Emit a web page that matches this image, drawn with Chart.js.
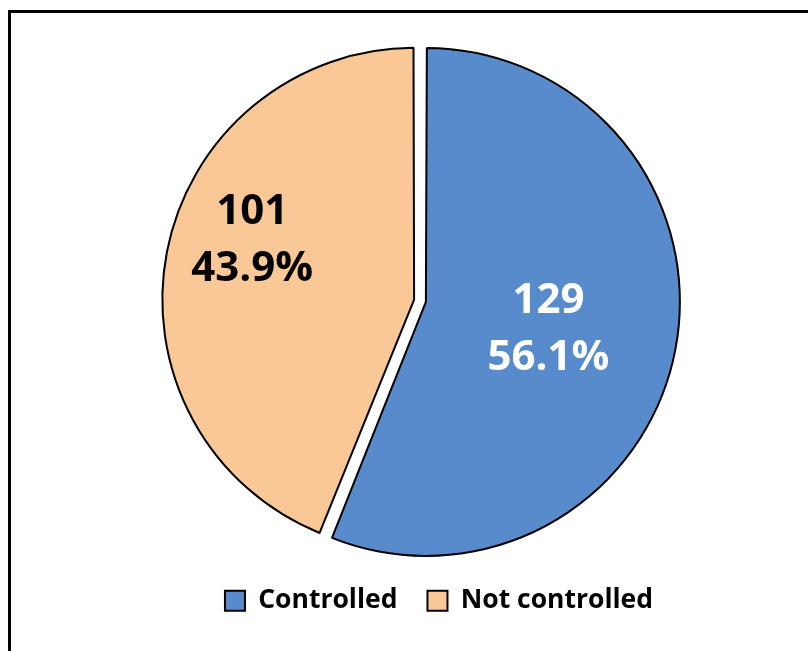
<!DOCTYPE html>
<html>
<head>
<meta charset="utf-8">
<script src="https://cdn.jsdelivr.net/npm/chart.js@4/dist/chart.umd.min.js"></script>
<style>
    body { margin: 0; background: #fff; }
    .frame {
        position: absolute; left: 8px; top: 10px;
        width: 900px; height: 700px;
        border: 3px solid #000;
    }
    .holder {
        position: absolute; left: 0; top: 0;
        width: 808px; height: 651px;
    }
</style>
</head>
<body>
<div class="frame"></div>
<div class="holder"><canvas id="chart"></canvas></div>
<script>
const categories = ["Controlled", "Not controlled"];
const counts = [129, 101];
const percents = ["56.1%", "43.9%"];

const sliceColors = ["#588bcb", "#fac896"];
const labelColors = ["#ffffff", "#000000"];

// draws "count / percent" inside every slice
const sliceLabels = {
    id: "sliceLabels",
    afterDatasetsDraw(chart, args, opts) {
        const ctx = chart.ctx;
        const arcs = chart.getDatasetMeta(0).data;
        ctx.save();
        ctx.font = "bold 42px 'Open Sans'";
        ctx.textAlign = "center";
        ctx.textBaseline = "middle";
        arcs.forEach((arc, i) => {
            const p = opts.place[i];
            const mid = (arc.startAngle + arc.endAngle) / 2 + p.turn * Math.PI / 180;
            const r = arc.outerRadius * p.r;
            const x = arc.x + Math.cos(mid) * r;
            const y = arc.y + Math.sin(mid) * r;
            ctx.fillStyle = labelColors[i];
            ctx.fillText(String(counts[i]), x, y - 28);
            ctx.fillText(percents[i], x, y + 29);
        });
        ctx.restore();
    }
};

// legend sits a little right of the pie centre in the original
const legendShift = {
    id: "legendShift",
    afterLayout(chart, args, opts) {
        chart.legend.left += opts.dx;
        chart.legend.right += opts.dx;
    }
};

new Chart(document.getElementById("chart"), {
    type: "pie",
    data: {
        labels: categories,
        datasets: [{
            data: counts,
            backgroundColor: sliceColors,
            borderColor: "#000",
            borderWidth: 2,
            offset: 24
        }]
    },
    options: {
        responsive: true,
        maintainAspectRatio: false,
        animation: { duration: 0 },
        radius: 248,
        layout: {
            padding: { left: 32, right: 0, top: 44, bottom: 27 }
        },
        plugins: {
            legend: {
                position: "bottom",
                labels: {
                    color: "#000",
                    boxWidth: 20,
                    boxHeight: 20,
                    padding: 30,
                    font: { family: "'Open Sans'", size: 26.5, weight: "bold" }
                }
            },
            tooltip: { enabled: false },
            sliceLabels: {
                place: [{ r: 0.53, turn: 1.3 }, { r: 0.72, turn: 9 }]
            },
            legendShift: { dx: 19 }
        }
    },
    plugins: [sliceLabels, legendShift]
});
</script>
</body>
</html>
